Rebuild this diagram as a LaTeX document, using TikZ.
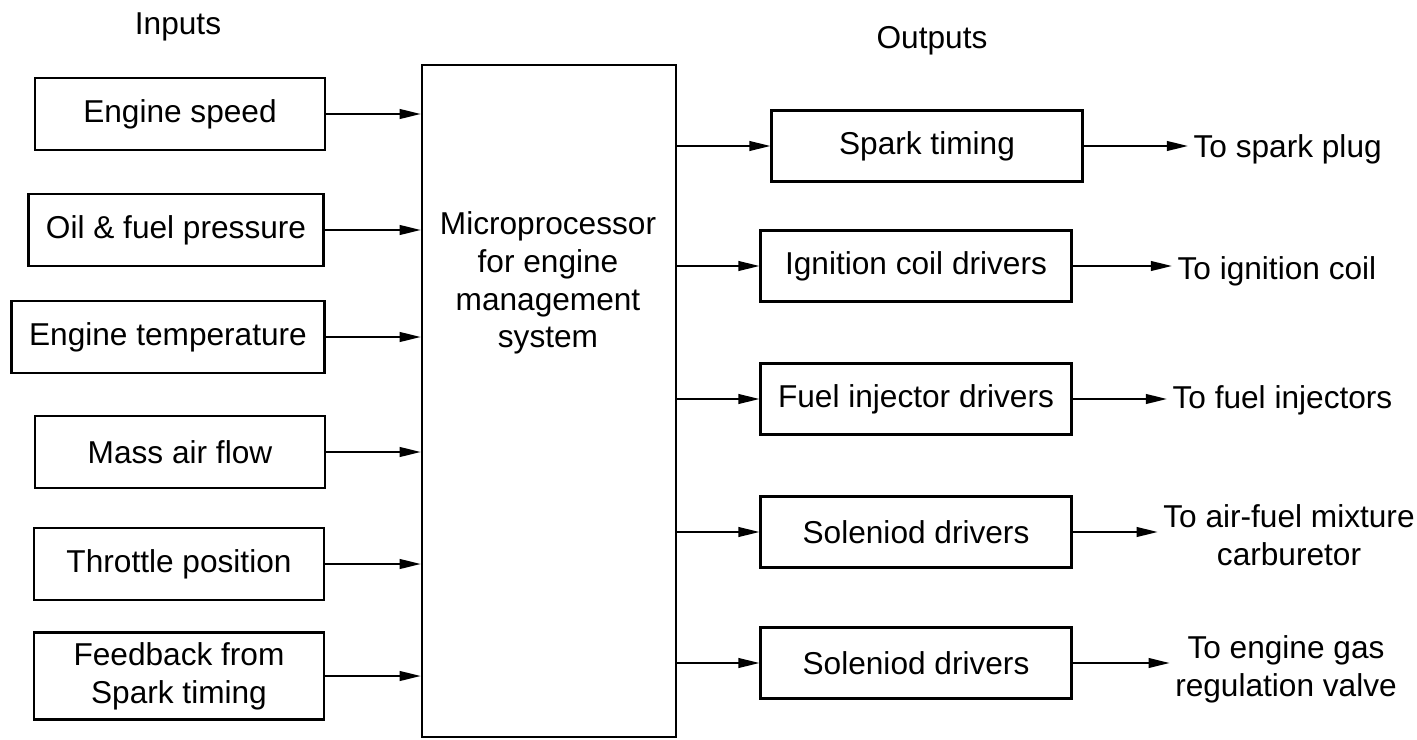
\documentclass[tikz,border=0pt]{standalone}
\usepackage{fontspec}
\setmainfont{Liberation Sans}
\usetikzlibrary{arrows.meta}
\tikzset{
  box/.style={draw,line width=1.2pt,minimum width=5.8cm,minimum height=1.44cm,align=center},
  outbox/.style={box,minimum width=6.22cm,minimum height=1.42cm},
  txt/.style={inner sep=3pt,align=center},
  feed/.style={line width=1.1pt,-{Triangle[length=12pt,width=5.5pt]}}
}
\begin{document}
\begin{tikzpicture}[x=0.02cm,y=-0.02cm,font=\fontsize{18}{21.5}\selectfont]
	\useasboundingbox (0,0) rectangle (1417,740);
	\node[txt] (inp) at (178,27) {Inputs};
	\node[txt] (outp) at (932,41) {Outputs};
	\node[box] (es) at (180,114) {Engine speed};
	\node[box,minimum width=5.9cm] (ofp) at (176,230) {Oil \& fuel pressure};
	\node[box,minimum width=6.26cm] (et) at (168,337) {Engine temperature};
	\node[box] (maf) at (180,452) {Mass air flow};
	\node[box] (tp) at (179,564) {Throttle position};
	\node[box,minimum height=1.74cm] (fb) at (179,676) {Feedback from\\Spark timing};
	\node[draw,line width=1.4pt,minimum width=5.08cm,minimum height=13.44cm] (mp) at (549,401) {};
	\node[txt] (mptext) at (548,283) {Microprocessor\\for engine\\management\\system};
	\foreach \n in {es,ofp,et,maf,tp,fb}
		\draw[feed] (\n.east) -- (\n.east -| mp.west);
	\node[outbox] (st) at (927,146) {Spark timing};
	\node[outbox] (icd) at (916,266) {Ignition coil drivers};
	\node[outbox] (fid) at (916,399) {Fuel injector drivers};
	\node[outbox] (sd1) at (916,532) {Soleniod drivers};
	\node[outbox] (sd2) at (916,663) {Soleniod drivers};
	\node[txt,anchor=west] (tsp) at (1188,149) {To spark plug};
	\node[txt,anchor=west] (tic) at (1172,271) {To ignition coil};
	\node[txt,anchor=west] (tfi) at (1167,400) {To fuel injectors};
	\node[txt] (tam) at (1289,535) {To air-fuel mixture\\carburetor};
	\node[txt] (teg) at (1286,669) {To engine gas\\regulation valve};
	\foreach \b in {st,icd,fid,sd1,sd2}
		\draw[feed] (mp.east |- \b.west) -- (\b.west);
	\foreach \b/\t in {st/tsp,icd/tic,fid/tfi,sd1/tam,sd2/teg}
		\draw[feed] (\b.east) -- (\b.east -| \t.west);
\end{tikzpicture}
\end{document}
